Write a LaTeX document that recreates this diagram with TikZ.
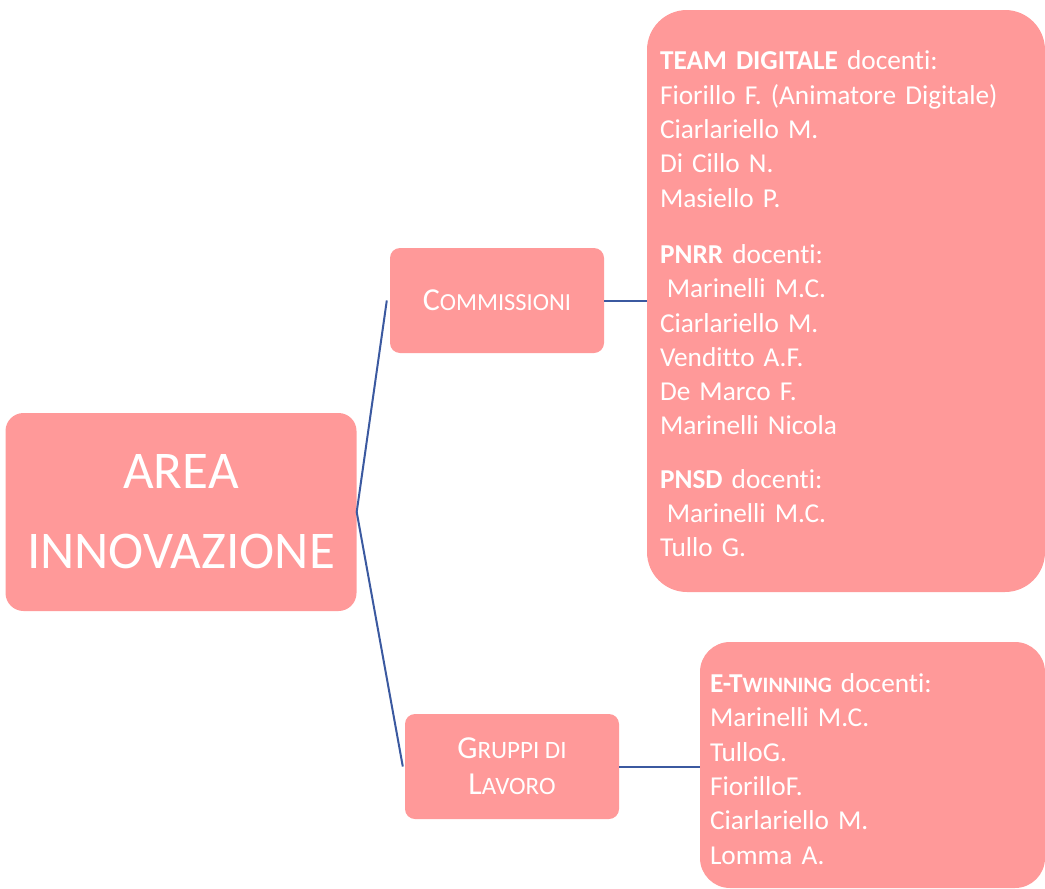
\documentclass[tikz,border=0pt]{standalone}
\usepackage{fontspec}
\setmainfont{Carlito}[RawFeature={-liga}]
\usetikzlibrary{positioning}
\definecolor{rosa}{RGB}{255,153,153}
\definecolor{linea}{RGB}{59,89,160}
\newcommand{\maiusc}[2]{{\fontsize{#1}{#1}\selectfont #2}}

\begin{document}
\begin{tikzpicture}[x=1pt, y=-1pt,
    riquadro/.style={rectangle, fill=rosa, text=white, inner sep=0pt},
    elenco/.style={riquadro, align=left, font=\fontsize{27.3}{34.3}\selectfont},
    connettore/.style={draw=linea, line width=2pt}]
    \useasboundingbox (0,0) rectangle (1045,889);

    \node[riquadro, minimum width=351pt, minimum height=198pt, rounded corners=18pt, align=center, font=\fontsize{53}{80}\selectfont] (area) at (181,512) {AREA\\INNOVAZIONE};
    \node[riquadro, minimum width=214pt, minimum height=105pt, rounded corners=10pt, font=\fontsize{32}{38}\selectfont] (comm) at (497,300.5) {C\maiusc{24.5}{OMMISSIONI}};
    \node[riquadro, minimum width=214pt, minimum height=105pt, rounded corners=10pt, align=center, font=\fontsize{32}{36}\selectfont] (gruppi) at (512,766.5) {G\maiusc{25}{RUPPI DI}\\L\maiusc{25}{AVORO}};

    \node[elenco, minimum width=398pt, minimum height=582pt, rounded corners=40pt, text width=372pt] (team) at (846,301) {\rule{0pt}{25pt}\textbf{TEAM DIGITALE} docenti:\\Fiorillo F. (Animatore Digitale)\\Ciarlariello M.\\Di Cillo N.\\Masiello P.\\[22pt]\textbf{PNRR} docenti:\\\hspace*{.25em}Marinelli M.C.\\Ciarlariello M.\\Venditto A.F.\\De Marco F.\\Marinelli Nicola\\[19pt]\textbf{PNSD} docenti:\\\hspace*{.25em}Marinelli M.C.\\Tullo G.};
    \node[elenco, minimum width=345pt, minimum height=246pt, rounded corners=30pt, text width=325pt] (etw) at (872.5,765) {\rule{0pt}{27pt}\textbf{E-T\maiusc{22}{WINNING}} docenti:\\Marinelli M.C.\\TulloG.\\FiorilloF.\\Ciarlariello M.\\Lomma A.};

    \draw[connettore] (area.east) -- ([xshift=-3pt]comm.west);
    \draw[connettore] (area.east) -- ([xshift=-2pt]gruppi.west);
    \draw[connettore] (comm.east) -- (team.west |- comm.east);
    \draw[connettore] (gruppi.east) -- (etw.west |- gruppi.east);
\end{tikzpicture}
\end{document}
